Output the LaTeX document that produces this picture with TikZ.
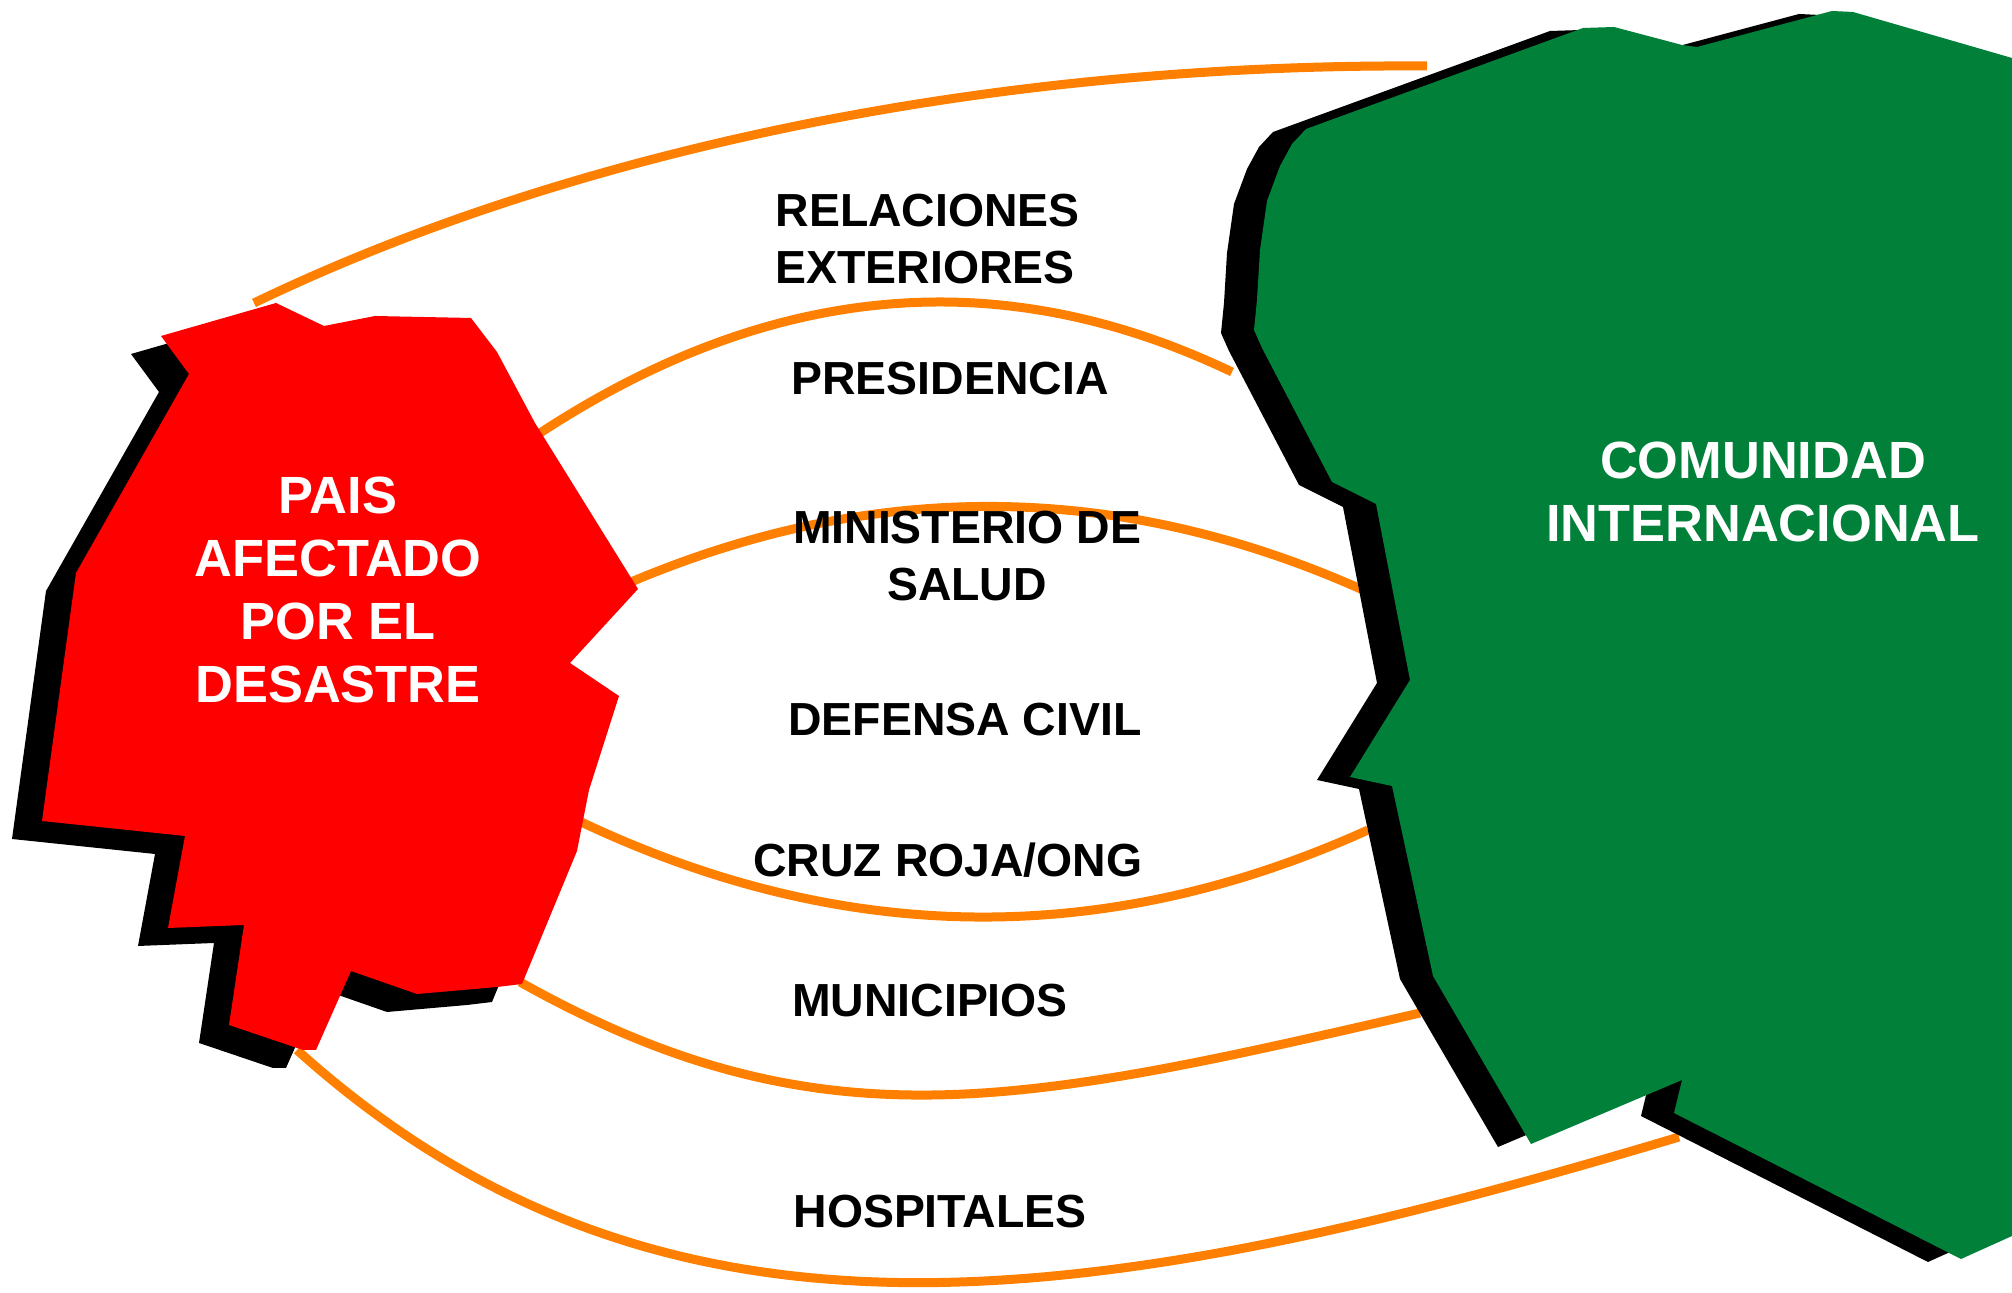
\documentclass[tikz,border=0pt]{standalone}
\usepackage{fontspec}
\setmainfont{Liberation Sans}
\usepackage{tikz}

\definecolor{rojo}{RGB}{255,0,0}
\definecolor{verde}{RGB}{0,128,56}
\definecolor{naranja}{RGB}{255,128,0}

\begin{document}
\begin{tikzpicture}[x=0.1mm,y=-0.1mm,
    enlace/.style={draw=naranja,line width=0.9mm},
    entidad/.style={font=\bfseries\fontsize{13.2}{16.2}\selectfont,inner sep=0pt},
    region/.style={font=\bfseries\fontsize{14.9}{17.9}\selectfont,text=white,inner sep=0pt,align=center}]
  \useasboundingbox (0,0) rectangle (2012,1293);

  % extremos de los enlaces (pais -> comunidad)
  \coordinate (p1) at (254,303);   \coordinate (c1) at (1427,66);
  \coordinate (p2) at (537,435);   \coordinate (c2) at (1232,372);
  \coordinate (p3) at (631,582);   \coordinate (c3) at (1363,590);
  \coordinate (p4) at (579,821);   \coordinate (c4) at (1368,830);
  \coordinate (p5) at (520,982);   \coordinate (c5) at (1420,1013);
  \coordinate (p6) at (297,1050);  \coordinate (c6) at (1679,1137);

  \draw[enlace] (p1) .. controls (540,165) and (950,63) .. (c1);
  \draw[enlace] (p2) .. controls (769,282) and (1000,261) .. (c2);
  \draw[enlace] (p3) .. controls (875,479) and (1119,481) .. (c3);
  \draw[enlace] (p4) .. controls (842,946) and (1105,949) .. (c4);
  \draw[enlace] (p5) .. controls (820,1150) and (1020,1105) .. (c5);
  \draw[enlace] (p6) .. controls (657,1374) and (1079,1317) .. (c6);

  % pais afectado, con sombra
  \foreach \dx/\dy/\col in {-30/18/black,0/0/rojo}
    \fill[\col,shift={(\dx,\dy)}] (161,336) -- (276,303) -- (324,326) -- (375,316) -- (471,318)
      -- (497,352) -- (535,423) -- (638,589) -- (570,663) -- (619,696) -- (589,790) -- (577,851)
      -- (522,984) -- (497,987) -- (417,994) -- (351,971) -- (316,1050) -- (303,1050)
      -- (229,1025) -- (244,925) -- (168,928) -- (185,836) -- (42,821) -- (76,573)
      -- (189,374) -- cycle;

  % comunidad internacional, con sombra
  \foreach \dx/\dy/\col in {-33/3/black,0/0/verde}
    \fill[\col,shift={(\dx,\dy)}] (1306,129) -- (1583,28) -- (1614,27) -- (1682,45) -- (1697,47)
      -- (1832,11) -- (1853,12) -- (2012,58) -- (2012,1236) -- (1961,1259) -- (1674,1113)
      -- (1682,1080) -- (1531,1144) -- (1433,976) -- (1392,786) -- (1350,777) -- (1410,680)
      -- (1376,504) -- (1332,482) -- (1262,348) -- (1254,330) -- (1257,300) -- (1260,250)
      -- (1267,201) -- (1280,166) -- (1292,144) -- cycle;

  \node (pais) [region] at (338,590) {PAIS\\AFECTADO\\POR EL\\DESASTRE};
  \node (comunidad) [region] at (1763,492) {COMUNIDAD\\INTERNACIONAL};

  \node (relaciones) [entidad,anchor=north west,align=left] at (775,193) {RELACIONES\\EXTERIORES};
  \node (presidencia) [entidad,anchor=base] at (950,395) {PRESIDENCIA};
  \node (ministerio) [entidad,anchor=north,align=center] at (967,510) {MINISTERIO DE\\SALUD};
  \node (defensa) [entidad,anchor=base] at (965,736) {DEFENSA CIVIL};
  \node (cruzroja) [entidad,anchor=base] at (948,877) {CRUZ ROJA/ONG};
  \node (municipios) [entidad,anchor=base] at (930,1017) {MUNICIPIOS};
  \node (hospitales) [entidad,anchor=base] at (940,1228) {HOSPITALES};
\end{tikzpicture}
\end{document}
